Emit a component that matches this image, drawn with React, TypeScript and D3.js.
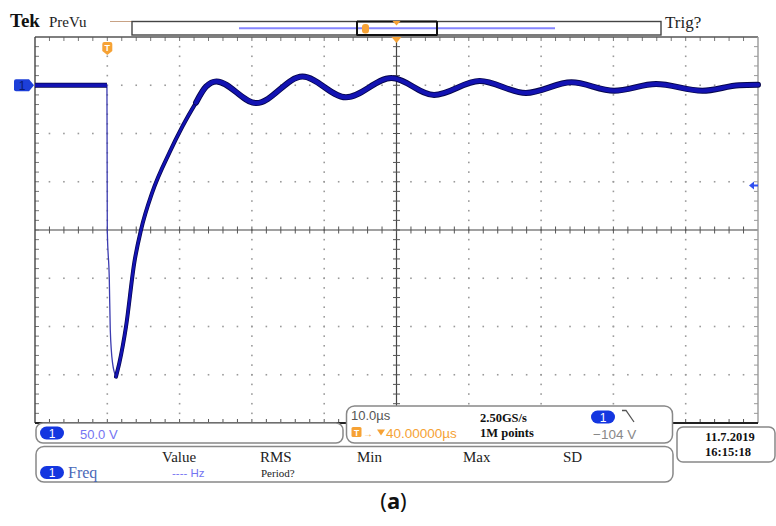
import React from "react";
import * as d3 from "d3";

// ---- Data (time in µs relative to trigger, voltage in V) ----
const timeUs = [
  -10, -0.05, 0, 0.28, 0.41, 0.73, 1.2, 1.66, 2.59, 3.73, 4.66, 6.22, 8.58,
  10.37, 12.27, 13.65, 15.1, 20.6, 27.0, 33.0, 39.3, 45.2, 51.5, 57.9, 64.2,
  70.1, 75.9, 82.3, 87.4, 90,
];
const voltsV = [
  0, 0, -150, -202, -253, -288, -302, -288, -250, -184, -150, -111, -70,
  -43, -18, -1.5, 4, -18.5, 9, -12.5, 7.5, -10, 4.5, -8, 3, -5.7, 1.2,
  -5.7, 0, 0.5,
];
const fallStartUs = -0.05;
const riseStartUs = 1.2;
const ringStartUs = 12.27;

const timeDomain = [-10, 90]; // 10 µs/div, 10 divisions
const voltDomain = [50, -350]; // 50 V/div, 8 divisions
const timeDiv = 10;
const voltDiv = 50;

const headerLeft = "Tek";
const headerMode = "PreVu";
const trigStatus = "Trig?";
const chScale = "50.0 V";
const timebase = "10.0µs";
const trigPos = "40.00000µs";
const sampleRate = "2.50GS/s";
const recordLen = "1M points";
const trigLevel = "\u2212104 V";
const dateText = "11.7.2019";
const timeText = "16:15:18";
const measHeads = ["Value", "RMS", "Min", "Max", "SD"];
const caption = "a";

const SERIF = "'Liberation Serif', 'Times New Roman', serif";
const SANS = "'Liberation Sans', Arial, sans-serif";
const ORANGE = "#f6a235";
const BLUE_PILL = "#1436e0";
const TRACE = "#1313b3";
const TRACE_EDGE = "#06064e";

const L = 35, R = 758, T = 37, B = 423;

function Pill({ cx, cy }: { cx: number; cy: number }) {
  return (
    <g>
      <rect x={cx - 12} y={cy - 6.5} width={24} height={13} rx={6.5} fill={BLUE_PILL} />
      <text x={cx} y={cy + 4.5} textAnchor="middle" fontFamily={SANS} fontSize={12} fill="#fff">1</text>
    </g>
  );
}

export default function App() {
  const x = d3.scaleLinear().domain(timeDomain).range([L, R]);
  const y = d3.scaleLinear().domain(voltDomain).range([T, B]);

  const pts = timeUs.map((t, i) => ({ t, v: voltsV[i] }));
  const line = d3
    .line<{ t: number; v: number }>()
    .x((d) => x(d.t))
    .y((d) => y(d.v))
    .curve(d3.curveMonotoneX);

  const flat = pts.filter((d) => d.t <= fallStartUs);
  const fall = pts.filter((d) => d.t >= fallStartUs && d.t <= riseStartUs);
  const rise = pts.filter((d) => d.t >= riseStartUs && d.t <= pts[15].t);
  const ring = pts.filter((d) => d.t >= ringStartUs);

  const majorT = d3.range(timeDomain[0], timeDomain[1] + 0.001, timeDiv);
  const majorV = d3.range(voltDomain[1], voltDomain[0] + 0.001, voltDiv);
  const minorT = d3.range(timeDomain[0], timeDomain[1] + 0.001, timeDiv / 5);
  const minorV = d3.range(voltDomain[1], voltDomain[0] + 0.001, voltDiv / 5);
  const centerT = (timeDomain[0] + timeDomain[1]) / 2;
  const centerV = (voltDomain[0] + voltDomain[1]) / 2;

  const dots: JSX.Element[] = [];
  majorT.slice(1, -1).forEach((t, i) => {
    if (t === centerT) return;
    minorV.slice(1, -1).forEach((v, j) =>
      dots.push(<rect key={`dv${i}-${j}`} x={x(t) - 0.8} y={y(v) - 0.8} width={1.6} height={1.6} fill="#9a9a9a" />)
    );
  });
  majorV.slice(1, -1).forEach((v, i) => {
    if (v === centerV) return;
    minorT.slice(1, -1).forEach((t, j) =>
      dots.push(<rect key={`dh${i}-${j}`} x={x(t) - 0.8} y={y(v) - 0.8} width={1.6} height={1.6} fill="#9a9a9a" />)
    );
  });

  const ticks: JSX.Element[] = [];
  minorT.slice(1, -1).forEach((t, i) => {
    ticks.push(<line key={`tc${i}`} x1={x(t)} x2={x(t)} y1={y(centerV) - 3.5} y2={y(centerV) + 3.5} stroke="#555" strokeWidth={1} />);
    ticks.push(<line key={`tt${i}`} x1={x(t)} x2={x(t)} y1={T} y2={T + 4} stroke="#777" strokeWidth={1} />);
    ticks.push(<line key={`tb${i}`} x1={x(t)} x2={x(t)} y1={B - 4} y2={B} stroke="#555" strokeWidth={1} />);
  });
  minorV.slice(1, -1).forEach((v, i) => {
    ticks.push(<line key={`vc${i}`} x1={x(centerT) - 3.5} x2={x(centerT) + 3.5} y1={y(v)} y2={y(v)} stroke="#555" strokeWidth={1} />);
    ticks.push(<line key={`vl${i}`} x1={L} x2={L + 4} y1={y(v)} y2={y(v)} stroke="#777" strokeWidth={1} />);
    ticks.push(<line key={`vr${i}`} x1={R - 4} x2={R} y1={y(v)} y2={y(v)} stroke="#999" strokeWidth={1} />);
  });

  const gx = x(0); // trigger position
  const gy = y(0); // ground level
  const ty = y(-104); // trigger level

  return (
    <svg width={776} height={526} style={{ position: "absolute", left: 0, top: 0, background: "#fff" }}>
      <rect width={776} height={526} fill="#fff" />
      {/* header */}
      <text x={10} y={27} fontFamily={SERIF} fontWeight="bold" fontSize={19} fill="#111">{headerLeft}</text>
      <text x={49} y={27} fontFamily={SERIF} fontSize={15} fill="#222">{headerMode}</text>
      <text x={665} y={28} fontFamily={SERIF} fontSize={17} fill="#222">{trigStatus}</text>
      <line x1={110} x2={132} y1={21.5} y2={21.5} stroke="#c8a285" strokeWidth={1} />
      <rect x={132} y={21.5} width={529} height={13.5} fill="#fff" stroke="#444" strokeWidth={1.4} />
      <line x1={239} x2={555} y1={28.3} y2={28.3} stroke="#8585ff" strokeWidth={2} />
      <line x1={357} x2={437} y1={21.5} y2={21.5} stroke="#111" strokeWidth={1.8} />
      <line x1={357} x2={437} y1={35} y2={35} stroke="#111" strokeWidth={1.8} />
      <line x1={357} x2={357} y1={21} y2={35.5} stroke="#111" strokeWidth={2} />
      <line x1={437} x2={437} y1={21} y2={35.5} stroke="#111" strokeWidth={2} />
      <rect x={362} y={24} width={7} height={9.5} rx={3} fill={ORANGE} />
      <path d={`M${x(centerT) - 4},21 L${x(centerT) + 4},21 L${x(centerT)},25.5 Z`} fill={ORANGE} />

      {/* plot frame & grid */}
      {dots}
      <line x1={x(centerT)} x2={x(centerT)} y1={T} y2={B} stroke="#444" strokeWidth={1.2} />
      <line x1={L} x2={R} y1={y(centerV)} y2={y(centerV)} stroke="#444" strokeWidth={1.2} />
      {ticks}
      <line x1={L} x2={R} y1={T} y2={T} stroke="#555" strokeWidth={1.4} />
      <line x1={L} x2={L} y1={T} y2={B} stroke="#444" strokeWidth={1.4} />
      <line x1={R} x2={R} y1={T} y2={B} stroke="#9a9a9a" strokeWidth={1.4} />
      <line x1={L} x2={R} y1={B} y2={B} stroke="#222" strokeWidth={2} />
      <path d={`M${x(centerT) - 5},${T} L${x(centerT) + 5},${T} L${x(centerT)},${T + 6} Z`} fill={ORANGE} />

      {/* trigger position marker */}
      <path d={`M${gx - 5},${44} Q${gx - 5},${42} ${gx - 3},${42} L${gx + 3},${42} Q${gx + 5},${42} ${gx + 5},${44} L${gx + 5},${51} L${gx},${55} L${gx - 5},${51} Z`} fill={ORANGE} />
      <text x={gx} y={51} textAnchor="middle" fontFamily={SANS} fontWeight="bold" fontSize={9} fill="#fff">T</text>

      {/* waveform */}
      <path d={line(fall) || ""} fill="none" stroke="#3b3bb0" strokeWidth={1.3} />
      <path d={line(rise) || ""} fill="none" stroke={TRACE_EDGE} strokeWidth={4} strokeLinecap="round" />
      <path d={line(rise) || ""} fill="none" stroke={TRACE} strokeWidth={2.6} strokeLinecap="round" />
      <path d={line(ring) || ""} fill="none" stroke={TRACE_EDGE} strokeWidth={6} strokeLinecap="round" />
      <path d={line(ring) || ""} fill="none" stroke={TRACE} strokeWidth={4.2} strokeLinecap="round" />
      <path d={line(flat) || ""} fill="none" stroke={TRACE_EDGE} strokeWidth={5} />
      <path d={line(flat) || ""} fill="none" stroke={TRACE} strokeWidth={3.4} />

      {/* channel ground marker */}
      <path d={`M16,${gy - 6} L29,${gy - 6} L34,${gy} L29,${gy + 6} L16,${gy + 6} Q14,${gy + 6} 14,${gy + 4} L14,${gy - 4} Q14,${gy - 6} 16,${gy - 6} Z`} fill="#1d3fd8" />
      <text x={22} y={gy + 4.5} textAnchor="middle" fontFamily={SANS} fontSize={12} fill="#0a1a70">1</text>
      {/* trigger level arrow */}
      <path d={`M749,${ty} L754,${ty - 4} L754,${ty - 1} L758,${ty - 1} L758,${ty + 1} L754,${ty + 1} L754,${ty + 4} Z`} fill="#3050f0" />

      {/* channel scale box */}
      <rect x={36} y={423} width={307} height={20} rx={7} fill="#fff" stroke="#888" strokeWidth={1.5} />
      <Pill cx={52} cy={433} />
      <text x={80} y={438.5} fontFamily={SANS} fontSize={13} fill="#7474f2">{chScale}</text>

      {/* timebase box */}
      <rect x={346.5} y={406} width={326} height={37} rx={8} fill="#fff" stroke="#888" strokeWidth={1.5} />
      <text x={351} y={420} fontFamily={SANS} fontSize={13} fill="#555">{timebase}</text>
      <rect x={351.5} y={427} width={10} height={10} rx={1.5} fill={ORANGE} />
      <text x={356.5} y={435.5} textAnchor="middle" fontFamily={SANS} fontWeight="bold" fontSize={8.5} fill="#fff">T</text>
      <text x={363} y={437} fontFamily={SANS} fontSize={10} fill={ORANGE}>→</text>
      <path d="M377,429.5 L385,429.5 L381,435.5 Z" fill={ORANGE} />
      <text x={386} y={437.5} fontFamily={SANS} fontSize={13.5} fill={ORANGE}>{trigPos}</text>
      <text x={480} y={421.5} fontFamily={SERIF} fontWeight="bold" fontSize={12.5} fill="#111">{sampleRate}</text>
      <text x={480} y={436.5} fontFamily={SERIF} fontWeight="bold" fontSize={12.5} fill="#111">{recordLen}</text>
      <Pill cx={603} cy={417} />
      <path d="M622,410.5 L626,410.5 L634,422" fill="none" stroke="#555" strokeWidth={1.3} />
      <text x={593} y={438.5} fontFamily={SANS} fontSize={13.5} fill="#888">{trigLevel}</text>

      {/* date box */}
      <rect x={677} y={427} width={98} height={35} rx={6} fill="#fff" stroke="#888" strokeWidth={1.5} />
      <text x={730} y={440.5} textAnchor="middle" fontFamily={SERIF} fontWeight="bold" fontSize={12.5} fill="#111">{dateText}</text>
      <text x={728} y={455.5} textAnchor="middle" fontFamily={SERIF} fontWeight="bold" fontSize={12.5} fill="#111">{timeText}</text>

      {/* measurement box */}
      <rect x={36} y={446.5} width={637} height={35.5} rx={8} fill="#fff" stroke="#888" strokeWidth={1.5} />
      <Pill cx={52} cy={472.5} />
      <text x={68} y={477.5} fontFamily={SERIF} fontSize={16} fill="#4a68b8">Freq</text>
      <text x={162} y={462} fontFamily={SERIF} fontSize={15} fill="#222">{measHeads[0]}</text>
      <text x={172} y={477} fontFamily={SANS} fontSize={11.5} fill="#7474f2">---- Hz</text>
      <text x={260} y={462} fontFamily={SERIF} fontSize={15} fill="#222">{measHeads[1]}</text>
      <text x={261} y={477} fontFamily={SERIF} fontSize={11} fill="#222">Period?</text>
      <text x={357} y={462} fontFamily={SERIF} fontSize={15} fill="#222">{measHeads[2]}</text>
      <text x={463} y={462} fontFamily={SERIF} fontSize={15} fill="#222">{measHeads[3]}</text>
      <text x={563} y={462} fontFamily={SERIF} fontSize={15} fill="#222">{measHeads[4]}</text>

      {/* caption */}
      <text x={393.5} y={509} textAnchor="middle" fontFamily="'Noto Sans', sans-serif" fontSize={22} fill="#111">
        (<tspan fontWeight="bold">{caption}</tspan>)
      </text>
    </svg>
  );
}
